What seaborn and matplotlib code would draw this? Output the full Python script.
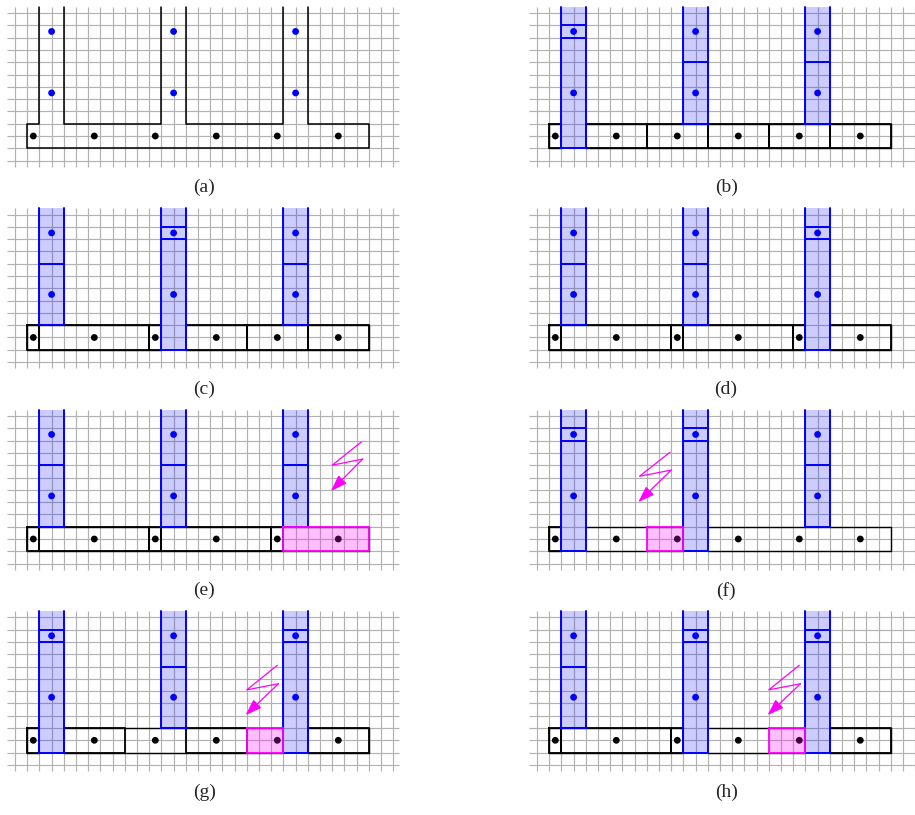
import numpy as np
import pandas as pd
import matplotlib
matplotlib.use("Agg")
import matplotlib.pyplot as plt
import seaborn as sns

sns.set_style("white")
plt.rcParams["font.family"] = ["Liberation Serif", "DejaVu Serif"]

# Geometrie (in Gitterzellen)
GRID_W, GRID_H = 31, 12
STEM_X = [2, 12, 22]
STEM_W = 2
BAR_X0, BAR_X1 = 1, 29
BAR_TOP, BAR_BOT = 9, 11
STEM_TOP = -0.5

black_dot_x = [1.5, 6.5, 11.5, 16.5, 21.5, 26.5]
black_dot_y = 10
blue_dot_y = [1.5, 6.5]

labels = ["(a)", "(b)", "(c)", "(d)", "(e)", "(f)", "(g)", "(h)"]

# Zustand der drei Stiele je Panel
stem_states = [
    ["open", "open", "open"],
    ["long", "short", "short"],
    ["short", "long", "short"],
    ["short", "short", "long"],
    ["short", "short", "short"],
    ["long", "long", "short"],
    ["long", "short", "long"],
    ["short", "long", "long"],
]

# schwarze Zellen im Balken
bar_cells = [
    [],
    [(1, 2), (4, 9), (9, 14), (14, 19), (19, 24), (24, 29)],
    [(1, 2), (2, 11), (11, 12), (14, 19), (19, 24), (24, 29)],
    [(1, 2), (2, 11), (11, 12), (12, 21), (21, 22), (24, 29)],
    [(1, 2), (2, 11), (11, 12), (12, 21), (21, 22)],
    [(1, 2)],
    [(1, 2), (4, 9), (14, 19), (24, 29)],
    [(1, 2), (2, 11), (11, 12), (24, 29)],
]

pink_cells = [None, None, None, None, (22, 29), (9, 12), (19, 22), (19, 22)]

bolts = [
    None, None, None, None,
    [(28.4, 2.1), (26.0, 4.0), (28.5, 3.5), (25.9, 6.1)],
    [(10.9, 2.95), (8.4, 4.9), (11.0, 4.4), (8.3, 7.0)],
    [(21.5, 3.9), (19.0, 5.9), (21.6, 5.4), (18.9, 7.95)],
    [(21.5, 3.9), (19.0, 5.9), (21.6, 5.4), (18.9, 7.95)],
]

# Pixel-Lage der Panels (Ursprung des Gitters)
col_x = [15, 537]
row_y = [13, 214.5, 416, 617.3]
CELL_X, CELL_Y = 12.2, 12.3
FIG_W, FIG_H = 915, 815

BLUE = "#0000ff"
MAGENTA = "#ff00ff"
GRID_C = "#b2b2b2"

fig = plt.figure(figsize=(FIG_W / 100, FIG_H / 100), dpi=100)


def panel_axes(ox, oy):
    left = (ox - CELL_X) / FIG_W
    top = (oy - CELL_Y) / FIG_H
    w = 33 * CELL_X / FIG_W
    h = 14 * CELL_Y / FIG_H
    ax = fig.add_axes([left, 1 - top - h, w, h])
    ax.set_xlim(-1, 32)
    ax.set_ylim(13, -1)
    ax.axis("off")
    return ax


def draw_stem(ax, x0, state):
    x1 = x0 + STEM_W
    if state == "long":
        bottom = BAR_BOT
        dividers = [1, 2]
    else:
        bottom = BAR_TOP
        dividers = [4]
    ax.fill_between([x0, x1], STEM_TOP, bottom, color=BLUE, alpha=0.2,
                    lw=0, zorder=2)
    ax.plot([x0, x0, x1, x1], [STEM_TOP, bottom, bottom, STEM_TOP],
            color=BLUE, lw=1.4, zorder=5, solid_joinstyle="miter")
    for d in dividers:
        ax.plot([x0, x1], [d, d], color=BLUE, lw=1.4, zorder=5)


def open_spans(states):
    # Balkenkante ohne die durchgehenden Stiele
    spans = []
    start = BAR_X0
    for x0, st in zip(STEM_X, states):
        if st == "long":
            spans.append((start, x0))
            start = x0 + STEM_W
    spans.append((start, BAR_X1))
    return spans


for i, lab in enumerate(labels):
    ox = col_x[i % 2]
    oy = row_y[i // 2]
    ax = panel_axes(ox, oy)

    # Gitter
    ax.hlines(range(GRID_H + 1), -0.65, GRID_W + 0.45, color=GRID_C,
              lw=0.85, zorder=1)
    ax.vlines(range(GRID_W + 1), -0.5, GRID_H + 0.5, color=GRID_C,
              lw=0.85, zorder=1)

    if i == 0:
        # Umriss des Kamms
        s0, s1, s2 = STEM_X
        ax.plot([s0, s0, BAR_X0, BAR_X0, BAR_X1, BAR_X1, s2 + STEM_W, s2 + STEM_W],
                [STEM_TOP, BAR_TOP, BAR_TOP, BAR_BOT, BAR_BOT, BAR_TOP, BAR_TOP, STEM_TOP],
                color="black", lw=1.1, zorder=5)
        for a, b in [(s0 + STEM_W, s1), (s1 + STEM_W, s2)]:
            ax.plot([a, a, b, b], [STEM_TOP, BAR_TOP, BAR_TOP, STEM_TOP],
                    color="black", lw=1.1, zorder=5)
    else:
        for a, b in open_spans(stem_states[i]):
            ax.plot([a, b], [BAR_TOP, BAR_TOP], color="black", lw=1.0, zorder=3)
            ax.plot([a, b], [BAR_BOT, BAR_BOT], color="black", lw=1.0, zorder=3)
        ax.plot([BAR_X0, BAR_X0], [BAR_TOP, BAR_BOT], color="black", lw=1.0, zorder=3)
        ax.plot([BAR_X1, BAR_X1], [BAR_TOP, BAR_BOT], color="black", lw=1.0, zorder=3)
        for a, b in bar_cells[i]:
            ax.plot([a, b, b, a, a], [BAR_TOP, BAR_TOP, BAR_BOT, BAR_BOT, BAR_TOP],
                    color="black", lw=1.3, zorder=3)
        for x0, st in zip(STEM_X, stem_states[i]):
            draw_stem(ax, x0, st)

    # Punkte
    dots = pd.DataFrame({
        "x": black_dot_x + [s + STEM_W / 2 for s in STEM_X for _ in blue_dot_y],
        "y": [black_dot_y] * len(black_dot_x) + blue_dot_y * len(STEM_X),
        "kind": ["black"] * len(black_dot_x) + ["blue"] * (len(STEM_X) * len(blue_dot_y)),
    })
    sns.scatterplot(data=dots, x="x", y="y", hue="kind",
                    palette={"black": "black", "blue": BLUE},
                    s=24, linewidth=0, legend=False, ax=ax, zorder=4)

    if pink_cells[i] is not None:
        a, b = pink_cells[i]
        ax.fill_between([a, b], BAR_TOP, BAR_BOT, color=MAGENTA, alpha=0.25,
                        lw=0, zorder=6)
        ax.plot([a, b, b, a, a], [BAR_TOP, BAR_TOP, BAR_BOT, BAR_BOT, BAR_TOP],
                color=MAGENTA, lw=1.3, zorder=7)

    if bolts[i] is not None:
        pts = bolts[i]
        ax.plot([p[0] for p in pts[:3]], [p[1] for p in pts[:3]],
                color=MAGENTA, lw=0.9, zorder=7)
        ax.annotate("", xy=pts[3], xytext=pts[2],
                    arrowprops=dict(arrowstyle="-|>,head_length=1.0,head_width=0.35",
                                    color=MAGENTA, lw=0.9, shrinkA=0, shrinkB=0),
                    zorder=7)

    ax.text(15.5, 14.2, lab, ha="center", va="center", fontsize=14,
            clip_on=False)

fig.savefig("out.png", dpi=100)
